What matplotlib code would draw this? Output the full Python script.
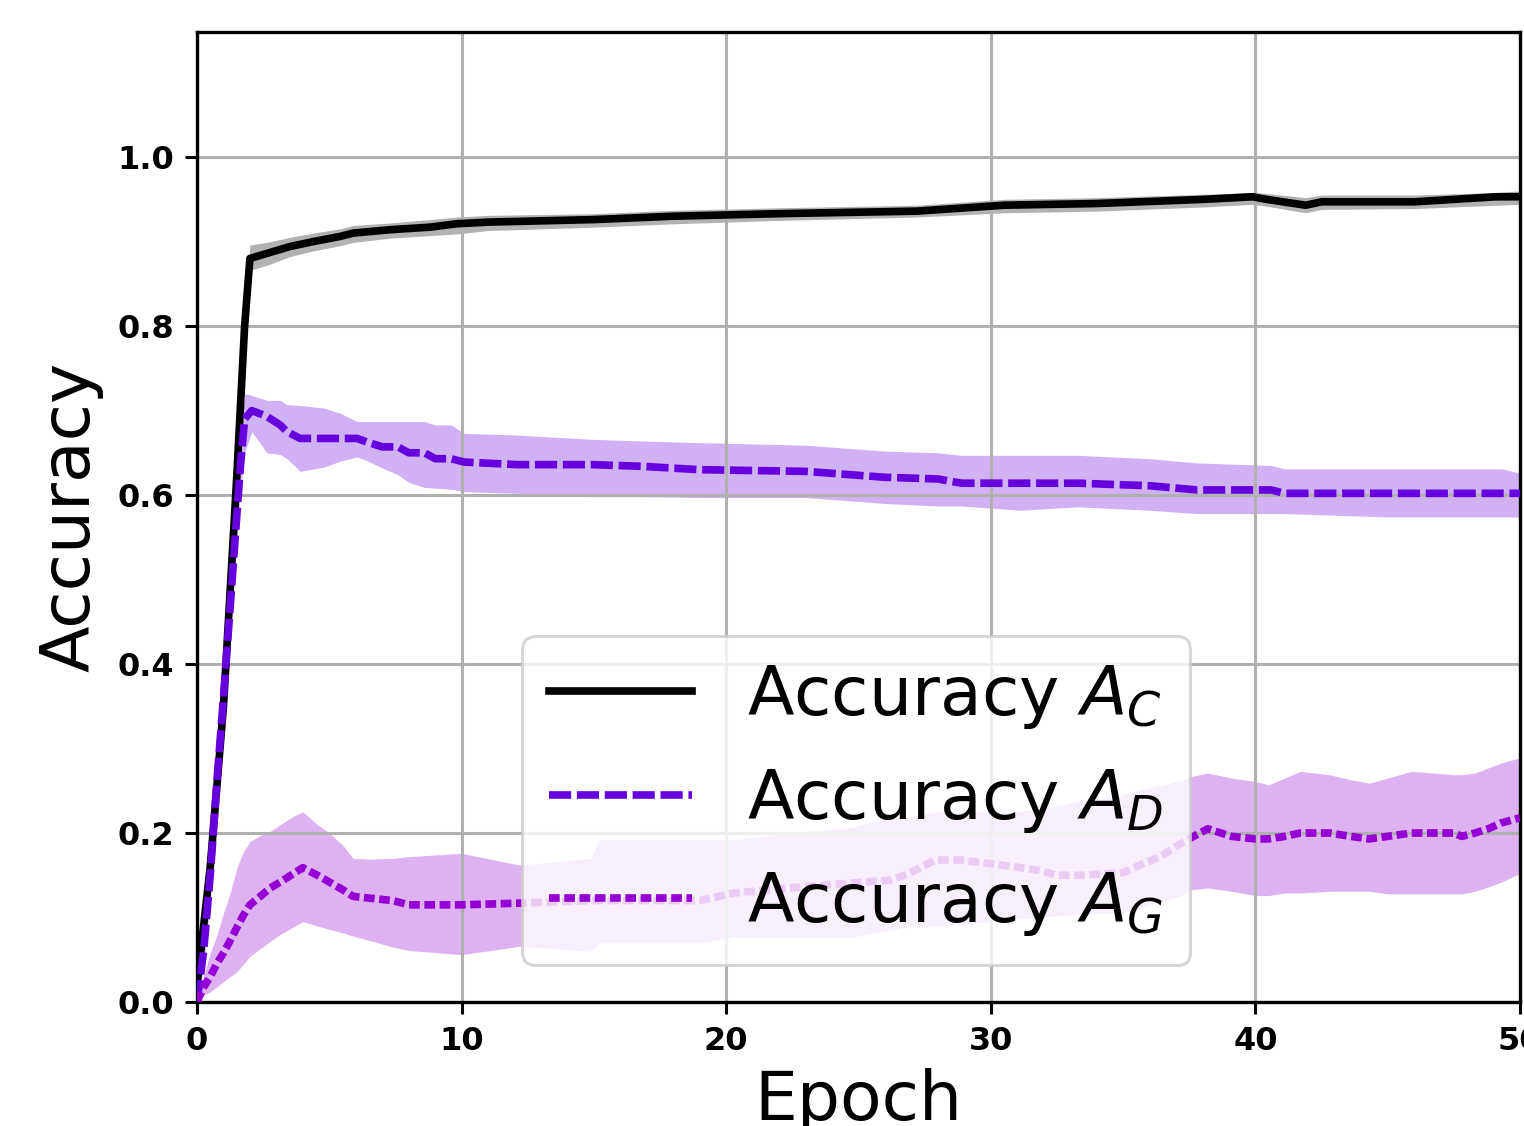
import matplotlib
matplotlib.use("Agg")
import matplotlib.pyplot as plt

# ---------------- data ----------------
x_c = [0, 0.5, 1.0, 1.5, 1.8, 2.0, 2.65, 3.5, 4.4, 5.4, 5.9, 7.3, 8.8, 9.8, 11,
       15, 18, 22, 27.2, 30.5, 34, 38.1, 39.9, 40.4, 41.9, 42.5, 46, 49.1, 50]
acc_c = [0.02, 0.16, 0.35, 0.62, 0.80, 0.880, 0.886, 0.894, 0.900, 0.906, 0.910,
         0.914, 0.917, 0.921, 0.923, 0.926, 0.930, 0.933, 0.936, 0.943, 0.945,
         0.950, 0.953, 0.950, 0.943, 0.947, 0.947, 0.953, 0.953]
acc_c_lo = [0.0, 0.14, 0.33, 0.60, 0.78, 0.866, 0.872, 0.882, 0.889, 0.895, 0.899,
            0.904, 0.907, 0.909, 0.913, 0.917, 0.921, 0.925, 0.929, 0.934, 0.936,
            0.941, 0.944, 0.942, 0.934, 0.938, 0.939, 0.943, 0.944]
acc_c_hi = [0.05, 0.18, 0.37, 0.64, 0.82, 0.896, 0.899, 0.905, 0.910, 0.915, 0.919,
            0.922, 0.926, 0.929, 0.931, 0.933, 0.937, 0.940, 0.943, 0.950, 0.952,
            0.956, 0.958, 0.957, 0.952, 0.955, 0.955, 0.958, 0.960]

x_d = [0, 0.25, 0.5, 0.75, 1.0, 1.33, 1.63, 1.8, 2.07, 2.64, 3.14, 3.4, 3.9, 4.8,
       5.4, 6.05, 6.4, 7.0, 7.6, 8.0, 8.6, 9.0, 9.6, 10.1, 12.1, 14.9, 16.8, 19,
       23, 26, 28, 28.9, 31.1, 33.3, 36, 37.8, 40.6, 41.1, 45, 49.3, 50]
acc_d = [0.0, 0.06, 0.15, 0.26, 0.36, 0.50, 0.63, 0.69, 0.70, 0.693, 0.683, 0.675,
         0.667, 0.667, 0.667, 0.667, 0.663, 0.657, 0.657, 0.650, 0.650, 0.643,
         0.643, 0.639, 0.636, 0.636, 0.634, 0.630, 0.628, 0.621, 0.619, 0.614,
         0.614, 0.614, 0.611, 0.606, 0.606, 0.602, 0.602, 0.602, 0.602]
acc_d_lo = [0.0, 0.04, 0.12, 0.23, 0.33, 0.47, 0.60, 0.65, 0.675, 0.65, 0.648,
            0.643, 0.628, 0.633, 0.64, 0.645, 0.641, 0.632, 0.624, 0.615, 0.609,
            0.608, 0.607, 0.604, 0.602, 0.598, 0.598, 0.597, 0.597, 0.59, 0.587,
            0.587, 0.582, 0.586, 0.582, 0.578, 0.578, 0.578, 0.574, 0.574, 0.574]
acc_d_hi = [0.02, 0.09, 0.18, 0.29, 0.40, 0.54, 0.67, 0.72, 0.718, 0.712, 0.712,
            0.707, 0.706, 0.703, 0.697, 0.687, 0.687, 0.687, 0.687, 0.687, 0.687,
            0.683, 0.683, 0.673, 0.671, 0.666, 0.664, 0.662, 0.659, 0.652, 0.650,
            0.647, 0.647, 0.647, 0.643, 0.638, 0.635, 0.631, 0.631, 0.631, 0.626]

x_g = [0, 0.24, 0.5, 0.76, 1.0, 1.26, 1.52, 1.76, 2.0, 2.39, 2.77, 3.15, 3.65,
       4.0, 4.55, 5.0, 5.5, 5.9, 6.5, 7.4, 8.0, 10, 12.2, 14.9, 15.2, 19, 20.3,
       22.4, 24.8, 26.2, 26.9, 27.4, 27.9, 28.9, 29.9, 30.9, 31.8, 32.5, 33.4,
       35, 35.5, 36.4, 37.2, 37.6, 38.2, 39.1, 40, 40.5, 41.1, 41.7, 42.8, 43.6,
       44.3, 45.0, 45.9, 47.5, 47.8, 48.3, 48.8, 49.3, 50]
acc_g = [0.0, 0.017, 0.03, 0.046, 0.058, 0.073, 0.089, 0.103, 0.115, 0.125, 0.135,
         0.142, 0.152, 0.159, 0.150, 0.142, 0.133, 0.125, 0.123, 0.120, 0.115,
         0.115, 0.117, 0.120, 0.120, 0.120, 0.129, 0.135, 0.141, 0.144, 0.152,
         0.160, 0.168, 0.168, 0.164, 0.160, 0.156, 0.150, 0.150, 0.153, 0.160,
         0.172, 0.188, 0.195, 0.205, 0.196, 0.193, 0.193, 0.196, 0.200, 0.200,
         0.196, 0.193, 0.196, 0.200, 0.200, 0.196, 0.200, 0.205, 0.212, 0.218]
acc_g_lo = [0.0, 0.008, 0.012, 0.018, 0.024, 0.030, 0.036, 0.045, 0.054, 0.063,
            0.072, 0.080, 0.089, 0.095, 0.090, 0.086, 0.082, 0.078, 0.073, 0.065,
            0.061, 0.056, 0.066, 0.060, 0.070, 0.070, 0.077, 0.077, 0.077, 0.085,
            0.089, 0.089, 0.090, 0.092, 0.095, 0.098, 0.100, 0.102, 0.104, 0.106,
            0.110, 0.118, 0.126, 0.133, 0.135, 0.131, 0.126, 0.126, 0.129, 0.129,
            0.131, 0.131, 0.131, 0.128, 0.128, 0.128, 0.128, 0.131, 0.136, 0.142,
            0.152]
acc_g_hi = [0.01, 0.030, 0.058, 0.080, 0.105, 0.130, 0.160, 0.178, 0.190, 0.197,
            0.202, 0.210, 0.220, 0.225, 0.210, 0.200, 0.186, 0.170, 0.169, 0.170,
            0.172, 0.176, 0.162, 0.170, 0.192, 0.192, 0.192, 0.200, 0.207, 0.219,
            0.219, 0.222, 0.225, 0.225, 0.225, 0.225, 0.228, 0.232, 0.238, 0.245,
            0.250, 0.256, 0.262, 0.267, 0.271, 0.265, 0.261, 0.257, 0.265, 0.273,
            0.269, 0.263, 0.259, 0.265, 0.273, 0.269, 0.269, 0.271, 0.277, 0.283,
            0.289]

labels = [r"Accuracy $A_C$", r"Accuracy $A_D$", r"Accuracy $A_G$"]
x_ticks = [0, 10, 20, 30, 40, 50]
y_ticks = [0.0, 0.2, 0.4, 0.6, 0.8, 1.0]

# ---------------- figure ----------------
plt.rcParams["font.family"] = ["DejaVu Sans"]
plt.rcParams["mathtext.fontset"] = "dejavusans"

W, H = 1524, 1126
fig = plt.figure(figsize=(W / 100, H / 100), dpi=100)
ax = fig.add_axes([197 / W, (H - 1002) / H, (1520 - 197) / W, (1002 - 32) / H])

col_c = "black"
col_d = "#6600dd"
col_g = "#9400d3"
lw = 5.5

ax.fill_between(x_c, acc_c_lo, acc_c_hi, color=col_c, alpha=0.3, linewidth=0, zorder=1)
ax.fill_between(x_d, acc_d_lo, acc_d_hi, color=col_d, alpha=0.3, linewidth=0, zorder=1)
ax.fill_between(x_g, acc_g_lo, acc_g_hi, color=col_g, alpha=0.3, linewidth=0, zorder=1)

ax.plot(x_c, acc_c, color=col_c, lw=lw, ls="-", label=labels[0], zorder=3)
ax.plot(x_d, acc_d, color=col_d, lw=lw, ls=(0, (2.9, 0.75)), label=labels[1], zorder=3)
ax.plot(x_g, acc_g, color=col_g, lw=lw, ls=(0, (1.4, 0.6)), label=labels[2], zorder=3)

ax.set_xlim(0, 50)
ax.set_ylim(0, 1.148)
ax.set_xticks(x_ticks)
ax.set_yticks(y_ticks)
ax.set_yticklabels([f"{v:.1f}" for v in y_ticks])

ax.set_axisbelow("line")
ax.grid(True, color="#b0b0b0", linewidth=2.2, zorder=1.5)

ax.tick_params(axis="both", labelsize=23, length=8.5, width=2.2, direction="out",
               color="black")
ax.tick_params(axis="x", pad=9)
ax.tick_params(axis="y", pad=8)
for lab in ax.get_xticklabels() + ax.get_yticklabels():
    lab.set_fontweight("bold")
for s in ax.spines.values():
    s.set_linewidth(2.4)
    s.set_color("black")

ax.set_xlabel("Epoch", fontsize=49, labelpad=8)
ax.set_ylabel("Accuracy", fontsize=49, labelpad=10)

leg = ax.legend(loc="upper left", bbox_to_anchor=(0.2457, 0.3773),
                fontsize=49, framealpha=0.8, edgecolor="0.8", fancybox=True,
                handlelength=2.1, handletextpad=0.8, borderaxespad=0,
                labelspacing=0.52)
leg.get_frame().set_linewidth(2.2)

fig.savefig("out.png", dpi=100)
